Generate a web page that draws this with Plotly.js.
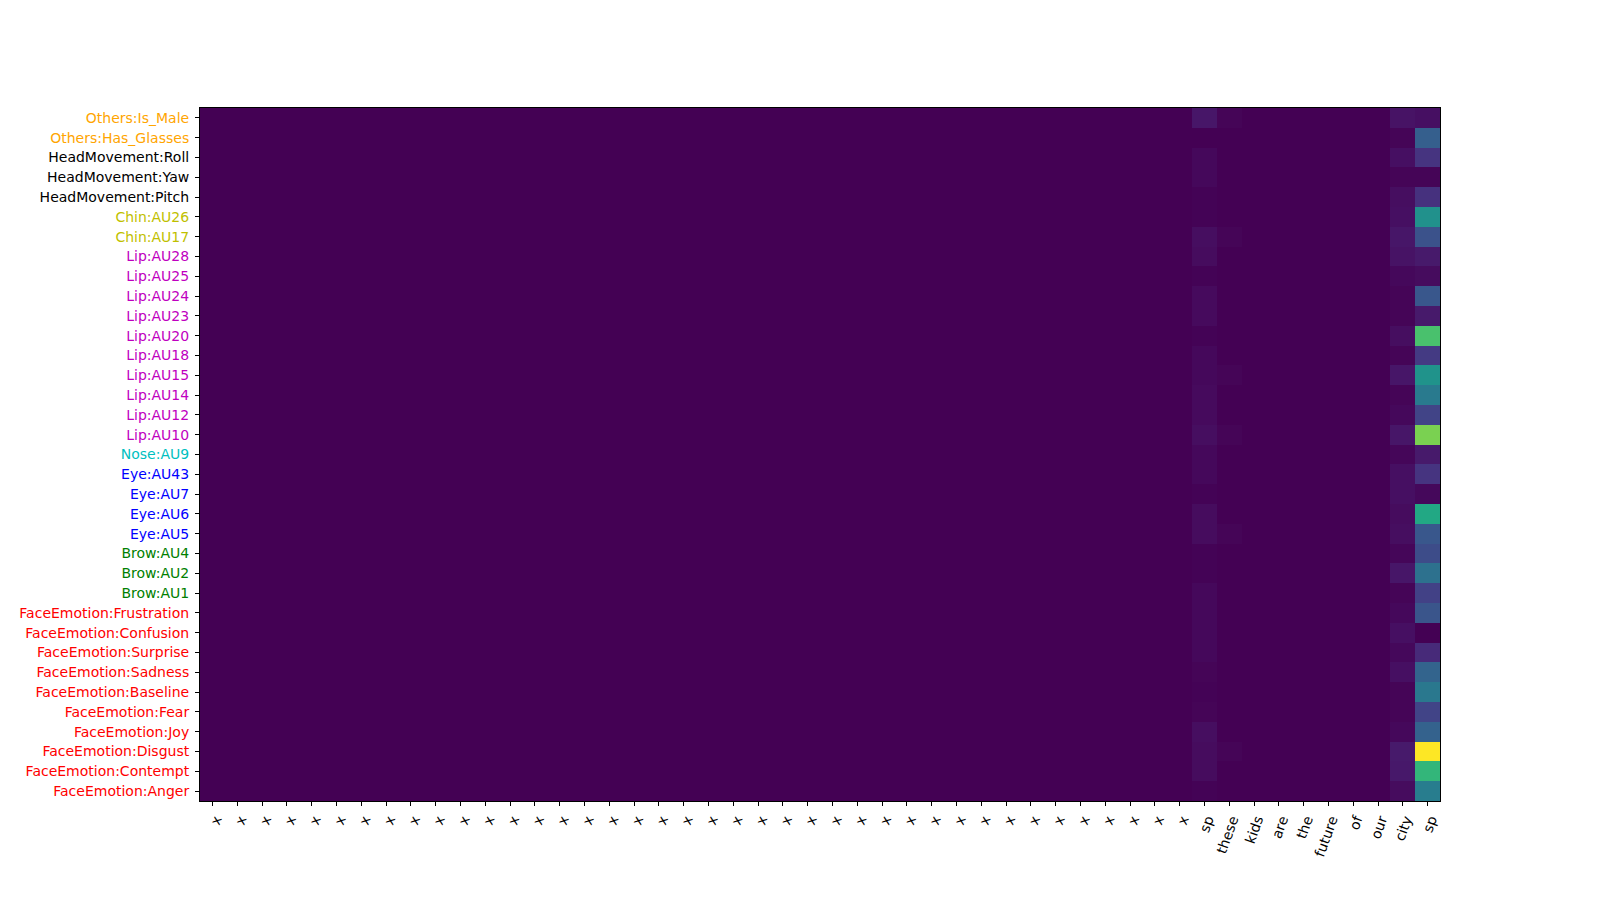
<!DOCTYPE html>
<html>
<head>
<meta charset="utf-8">
<script src="https://cdn.plot.ly/plotly-3.0.1.min.js"></script>
<style>html,body{margin:0;padding:0;background:#fff;}#chart{width:1600px;height:900px;}</style>
</head>
<body>
<div id="chart"></div>
<script>
// Column labels (50 tokens)
const xLabels = ["x","x","x","x","x","x","x","x","x","x",
                 "x","x","x","x","x","x","x","x","x","x",
                 "x","x","x","x","x","x","x","x","x","x",
                 "x","x","x","x","x","x","x","x","x","x",
                 "sp","these","kids","are","the","future","of","our","city","sp"];

// Row labels, top to bottom
const yLabels = ["Others:Is_Male","Others:Has_Glasses","HeadMovement:Roll","HeadMovement:Yaw","HeadMovement:Pitch",
  "Chin:AU26","Chin:AU17","Lip:AU28","Lip:AU25","Lip:AU24","Lip:AU23","Lip:AU20","Lip:AU18","Lip:AU15",
  "Lip:AU14","Lip:AU12","Lip:AU10","Nose:AU9","Eye:AU43","Eye:AU7","Eye:AU6","Eye:AU5",
  "Brow:AU4","Brow:AU2","Brow:AU1","FaceEmotion:Frustration","FaceEmotion:Confusion","FaceEmotion:Surprise",
  "FaceEmotion:Sadness","FaceEmotion:Baseline","FaceEmotion:Fear","FaceEmotion:Joy","FaceEmotion:Disgust",
  "FaceEmotion:Contempt","FaceEmotion:Anger"];

const yColors = ["#ffa500","#ffa500","#000000","#000000","#000000",
  "#bfbf00","#bfbf00","#bf00bf","#bf00bf","#bf00bf","#bf00bf","#bf00bf","#bf00bf","#bf00bf",
  "#bf00bf","#bf00bf","#bf00bf","#00bfbf","#0000ff","#0000ff","#0000ff","#0000ff",
  "#008000","#008000","#008000","#ff0000","#ff0000","#ff0000","#ff0000","#ff0000","#ff0000","#ff0000","#ff0000",
  "#ff0000","#ff0000"];

// Non-zero columns (values per row, top to bottom); all other columns are 0
const colSp = [0.06,0.0,0.02,0.02,0.005,0.005,0.035,0.03,0.005,0.025,0.025,0.005,0.02,0.02,
  0.025,0.025,0.035,0.02,0.02,0.005,0.03,0.03,0.005,0.005,0.02,0.02,0.02,0.02,0.01,0.005,0.01,0.035,0.03,0.03,0.005];
const colThese = [0.01,0,0,0,0,0,0.01,0,0,0,0,0,0,0.01,0,0,0.01,0,0,0,0,0.01,0,0,0,0,0,0,0,0,0,0,0.01,0,0];
const colCity = [0.05,0.01,0.04,0.01,0.035,0.04,0.06,0.05,0.02,0.01,0.01,0.035,0.01,0.06,
  0.01,0.02,0.06,0.015,0.04,0.04,0.03,0.035,0.015,0.06,0.01,0.02,0.04,0.02,0.04,0.01,0.01,0.02,0.07,0.065,0.03];
const colSpEnd = [0.04,0.3,0.15,0.01,0.14,0.5,0.25,0.07,0.03,0.27,0.07,0.71,0.17,0.51,
  0.41,0.2,0.8,0.07,0.15,0.02,0.6,0.27,0.23,0.37,0.19,0.26,0.0,0.12,0.32,0.4,0.2,0.31,1.0,0.66,0.42];

const nonZero = {40: colSp, 41: colThese, 48: colCity, 49: colSpEnd};

const z = yLabels.map((_, r) => xLabels.map((_, c) => nonZero[c] ? nonZero[c][r] : 0));
const xIdx = xLabels.map((_, i) => i);
const yIdx = yLabels.map((_, i) => i);

const viridis = [
  [0.0,"#440154"],[0.05,"#471365"],[0.1,"#482475"],[0.15,"#463480"],[0.2,"#414487"],
  [0.25,"#3b528b"],[0.3,"#355f8d"],[0.35,"#2f6c8e"],[0.4,"#2a788e"],[0.45,"#25848e"],
  [0.5,"#21918c"],[0.55,"#1e9c89"],[0.6,"#22a884"],[0.65,"#2fb47c"],[0.7,"#44bf70"],
  [0.75,"#5ec962"],[0.8,"#7ad151"],[0.85,"#9bd93c"],[0.9,"#bddf26"],[0.95,"#dfe318"],[1.0,"#fde725"]];

const trace = {
  type: "heatmap",
  x: xIdx, y: yIdx, z: z,
  colorscale: viridis, zmin: 0, zmax: 1,
  showscale: false, xgap: 0, ygap: 0
};

const layout = {
  width: 1600, height: 900,
  margin: {l: 200, r: 160, t: 108, b: 99, pad: 0},
  paper_bgcolor: "#ffffff", plot_bgcolor: "#ffffff",
  font: {family: "DejaVu Sans", size: 14, color: "#000"},
  xaxis: {
    tickmode: "array", tickvals: xIdx, ticktext: xLabels, tickangle: -70,
    ticks: "outside", ticklen: 4, tickcolor: "#000", tickwidth: 1,
    showline: true, linecolor: "#000", linewidth: 1, mirror: true,
    showgrid: false, zeroline: false, range: [-0.5, 49.5],
    ticklabelshift: 3,
    tickfont: {family: "DejaVu Sans", size: 14, color: "#000"}
  },
  yaxis: {
    tickmode: "array", tickvals: yIdx,
    ticktext: yLabels.map((t, i) => '<span style="color:' + yColors[i] + '">' + t + '</span>'),
    ticks: "outside", ticklen: 4, tickcolor: "#000", tickwidth: 1,
    showline: true, linecolor: "#000", linewidth: 1, mirror: true,
    showgrid: false, zeroline: false, range: [34.5, -0.5],
    ticklabelstandoff: 3,
    tickfont: {family: "DejaVu Sans", size: 14}
  }
};

Plotly.newPlot("chart", [trace], layout, {displayModeBar: false, staticPlot: true});
</script>
</body>
</html>
